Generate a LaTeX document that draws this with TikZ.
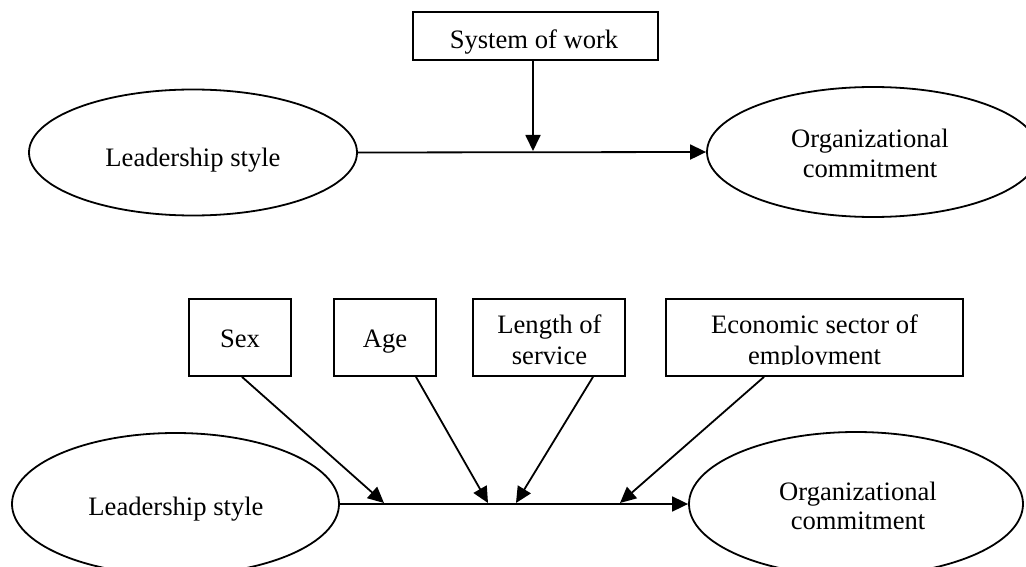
\documentclass[tikz,border=0pt]{standalone}
\usepackage{fontspec}
\setmainfont{Liberation Serif}
\usetikzlibrary{arrows.meta,shapes.geometric}
\tikzset{
  oval/.style={draw, ellipse, line width=1.8pt, inner sep=0pt},
  boxnode/.style={draw, rectangle, line width=1.8pt, inner sep=0pt},
  txt/.style={anchor=base, inner sep=0pt, font=\fontsize{26.6}{29}\selectfont},
  arr/.style={line width=1.8pt, -{Triangle[length=16pt,width=15pt]}},
}
\begin{document}
\begin{tikzpicture}[x=1pt,y=-1pt]
\useasboundingbox (0,0) rectangle (1026,567);
\clip (0,0) rectangle (1026,567);
% ---------- top model ----------
\node[boxnode, minimum width=245pt, minimum height=48pt] (sys) at (535.5,36) {};
\node[txt] (syst) at (534,49) {System of work};
\node[oval, minimum width=328pt, minimum height=126pt] (lead1) at (193,152.5) {};
\node[txt] (lead1t) at (193,167) {Leadership style};
\node[oval, minimum width=332pt, minimum height=130pt] (org1) at (873,152) {};
\node[txt] (org1a) at (870,147.5) {Organizational};
\node[txt] (org1b) at (870,177.5) {commitment};
\draw[arr] (lead1.east) -- (org1.west);
\coordinate (m1) at (533,151);
\draw[arr] (sys.south -| m1) -- (m1);
% ---------- bottom model ----------
\node[boxnode, minimum width=102pt, minimum height=77pt] (sex) at (240,337.5) {};
\node[boxnode, minimum width=102pt, minimum height=77pt] (age) at (385,337.5) {};
\node[boxnode, minimum width=152pt, minimum height=77pt] (len) at (549,337.5) {};
\node[boxnode, minimum width=297pt, minimum height=77pt] (eco) at (814.5,337.5) {};
\node[txt] (sext) at (240,347) {Sex};
\node[txt] (aget) at (385,347) {Age};
\begin{scope}
\clip (len.north west) rectangle ([yshift=12.5pt]len.south east);
\node[txt] (lent1) at (549.5,333.5) {Length of};
\node[txt] (lent2) at (549.5,364) {service};
\end{scope}
\begin{scope}
\clip (eco.north west) rectangle ([yshift=12.5pt]eco.south east);
\node[txt] (ecot1) at (814.5,333.5) {Economic sector of};
\node[txt] (ecot2) at (814.5,364) {employment};
\end{scope}
\node[oval, minimum width=327pt, minimum height=142pt] (lead2) at (175.5,504) {};
\node[txt] (lead2t) at (176,515) {Leadership style};
\node[oval, minimum width=334pt, minimum height=144pt] (org2) at (856,504) {};
\node[txt] (org2a) at (858,500) {Organizational};
\node[txt] (org2b) at (858,529) {commitment};
\draw[arr] (lead2.east) -- (org2.west);
\coordinate (p1) at (384,503);
\coordinate (p2) at (488,503);
\coordinate (p3) at (516,503);
\coordinate (p4) at (620,503);
\draw[arr] ([xshift=2pt]sex.south) -- (p1);
\draw[arr] ([xshift=31pt]age.south) -- (p2);
\draw[arr] ([xshift=44pt]len.south) -- (p3);
\draw[arr] ([xshift=-50.5pt]eco.south) -- (p4);
\end{tikzpicture}
\end{document}
